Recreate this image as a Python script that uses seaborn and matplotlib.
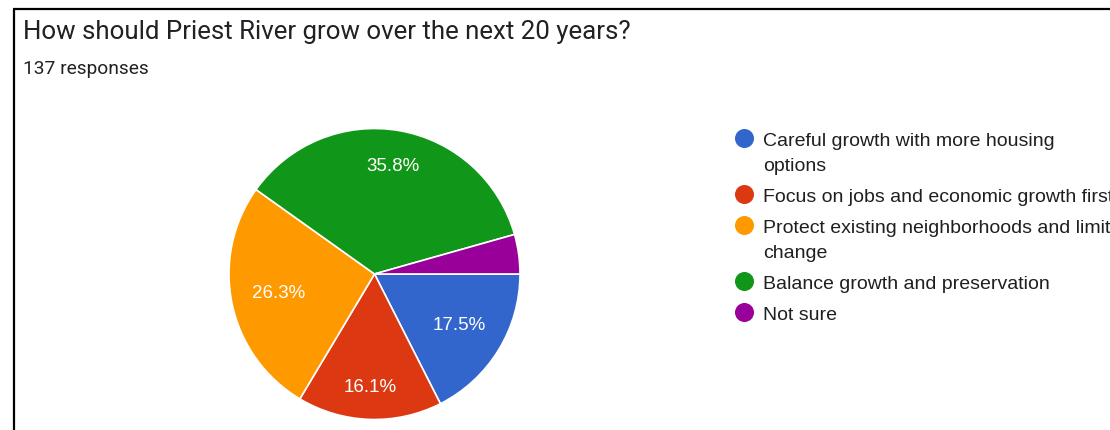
import matplotlib
matplotlib.use("Agg")
import matplotlib.pyplot as plt
import seaborn as sns
import numpy as np

sns.set_theme(style="white")
plt.rcParams['font.family'] = ['Liberation Sans', 'DejaVu Sans']

title = "How should Priest River grow over the next 20 years?"
subtitle = "137 responses"
categories = [
    "Careful growth with more housing\noptions",
    "Focus on jobs and economic growth first",
    "Protect existing neighborhoods and limit\nchange",
    "Balance growth and preservation",
    "Not sure",
]
counts = [24, 22, 36, 49, 6]
colors = ["#3366CC", "#DC3912", "#FF9900", "#109618", "#990099"]
label_radius = [0.68, 0.78, 0.67, 0.75, 0.7]

W, H = 1110, 430
fig = plt.figure(figsize=(W / 100, H / 100), dpi=100)
fig.patch.set_facecolor("white")

# Pie axes
cx, cy, R = 374.5, 274, 145.5
ax = fig.add_axes([(cx - R) / W, (H - cy - R) / H, 2 * R / W, 2 * R / H])

def fmt(p):
    return f"{p:.1f}%" if p >= 5 else ""

wedges, texts, autotexts = ax.pie(
    counts, colors=colors, startangle=0, counterclock=False,
    autopct=fmt, pctdistance=0.7,
    wedgeprops=dict(edgecolor="white", linewidth=1.2),
    textprops=dict(color="white", fontsize=13.5),
)
for w, t, r in zip(wedges, autotexts, label_radius):
    ang = np.deg2rad((w.theta1 + w.theta2) / 2)
    t.set_position((r * np.cos(ang), r * np.sin(ang)))
    t.set_ha("center"); t.set_va("center")
ax.set_xlim(-1, 1); ax.set_ylim(-1, 1)
ax.set_aspect("equal")
ax.axis("off")

# Overlay axes in pixel coordinates for text, legend and border
ov = fig.add_axes([0, 0, 1, 1], facecolor="none")
ov.set_xlim(0, W); ov.set_ylim(H, 0)
ov.axis("off")

ov.plot([14, 14], [9, H], color="black", lw=1.6, solid_capstyle="butt")
ov.plot([13.2, W], [9, 9], color="black", lw=1.6, solid_capstyle="butt")

ov.text(23, 39.5, title, fontsize=18.6, color="#202124", va="baseline", ha="left",
        family=["Roboto", "DejaVu Sans"])
ov.text(23, 73.5, subtitle, fontsize=13.8, color="#202124", va="baseline", ha="left",
        family=["Roboto", "DejaVu Sans"])

# Legend
y = 145.7
line_h = 25
gap = 31
for lab, col in zip(categories, colors):
    lines = lab.split("\n")
    ov.scatter([744.3], [y - 7.5], s=19 ** 2 * 0.52, color=col, linewidths=0, clip_on=False)
    for i, ln in enumerate(lines):
        ov.text(763, y + i * line_h, ln, fontsize=14, color="#1f1f1f", va="baseline", ha="left")
    y += (len(lines) - 1) * line_h + gap

fig.savefig("out.png", dpi=100, facecolor="white")
